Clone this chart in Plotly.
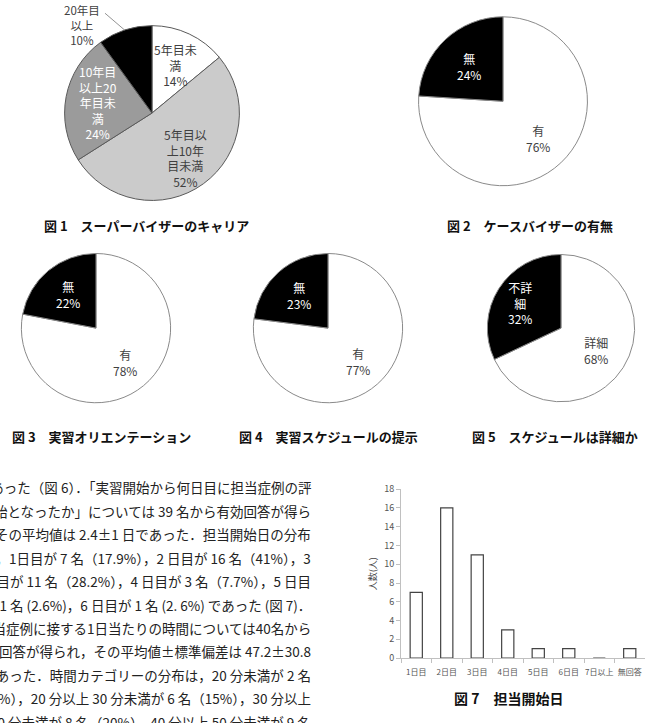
import math
import plotly.graph_objects as go

W, H = 652, 723

# ---------------- data ----------------
pie1_labels = ["5年目未<br>満<br>14%", "5年目以<br>上10年<br>目未満<br>52%", "10年目<br>以上20<br>年目未<br>満<br>24%", "20年目<br>以上<br>10%"]
pie1_values = [14, 52, 24, 10]
pie2_labels = ["有<br>76%", "無<br>24%"]
pie2_values = [76, 24]
pie3_labels = ["有<br>78%", "無<br>22%"]
pie3_values = [78, 22]
pie4_labels = ["有<br>77%", "無<br>23%"]
pie4_values = [77, 23]
pie5_labels = ["詳細<br>68%", "不詳<br>細<br>32%"]
pie5_values = [68, 32]

bar_categories = ["1日目", "2日目", "3日目", "4日目", "5日目", "6日目", "7日以上", "無回答"]
bar_values = [7, 16, 11, 3, 1, 1, 0, 1]

captions = ["図 1　スーパーバイザーのキャリア", "図 2　ケースバイザーの有無",
            "図 3　実習オリエンテーション", "図 4　実習スケジュールの提示",
            "図 5　スケジュールは詳細か", "図 7　担当開始日"]

body_lines = [
    "であった（図 6）．「実習開始から何日目に担当症例の評",
    "価開始となったか」については 39 名から有効回答が得ら",
    "れ，その平均値は 2.4±1 日であった．担当開始日の分布",
    "は，1日目が 7 名（17.9%），2 日目が 16 名（41%），3",
    "日目が 11 名（28.2%），4 日目が 3 名（7.7%），5 日目",
    "が 1 名 (2.6%)，6 日目が 1 名 (2. 6%) であった (図 7)．",
    "担当症例に接する1日当たりの時間については40名から",
    "有効回答が得られ，その平均値±標準偏差は 47.2±30.8",
    "分であった．時間カテゴリーの分布は，20 分未満が 2 名",
    "（5%），20 分以上 30 分未満が 6 名（15%），30 分以上",
    "40 分未満が 8 名（20%），40 分以上 50 分未満が 9 名",
]

# ---------------- helpers ----------------
def px(x):
    return x / W

def py(y):
    return 1 - y / H

FONT = "Noto Sans CJK JP"
fig = go.Figure()
annotations = []

# pie specs: (values, labels, colors, text colors, center x, center y, radius, label radial fractions, line color)
pies = [
    (pie1_values, pie1_labels, ["#ffffff", "#cbcbcb", "#9b9b9b", "#000000"],
     ["#404040", "#404040", "#ffffff", None], 152, 108, 89, [0.61, 0.64, 0.62, None], "#5a5a5a"),
    (pie2_values, pie2_labels, ["#ffffff", "#000000"], ["#404040", "#ffffff"], 503, 96, 86, [0.6, 0.57], "#8a8a8a"),
    (pie3_values, pie3_labels, ["#ffffff", "#000000"], ["#404040", "#ffffff"], 96, 327, 76, [0.6, 0.58], "#8a8a8a"),
    (pie4_values, pie4_labels, ["#ffffff", "#000000"], ["#404040", "#ffffff"], 328, 327, 76, [0.6, 0.58], "#8a8a8a"),
    (pie5_values, pie5_labels, ["#ffffff", "#000000"], ["#404040", "#ffffff"], 561, 327, 75, [0.56, 0.64], "#8a8a8a"),
]

for vals, labs, cols, tcols, cx, cy, r, fr, lc in pies:
    fig.add_trace(go.Pie(
        values=vals, labels=[l.replace("<br>", "") for l in labs], sort=False,
        direction="clockwise", rotation=0,
        marker=dict(colors=cols, line=dict(color=lc, width=1)),
        textinfo="none", hoverinfo="skip", showlegend=False,
        domain=dict(x=[px(cx - r), px(cx + r)], y=[py(cy + r), py(cy - r)]),
    ))
    total = sum(vals)
    start = 0.0
    for v, lab, tc, f in zip(vals, labs, tcols, fr):
        mid = (start + v / 2) / total * 2 * math.pi
        start += v
        if f is None:
            # outside label with leader line
            ex = cx + r * math.sin(mid)
            ey = cy - r * math.cos(mid)
            annotations.append(dict(x=px(ex), y=py(ey), xref="paper", yref="paper",
                                    showarrow=True, arrowhead=0, arrowwidth=0.8, arrowcolor="#777",
                                    ax=-21, ay=-18, text=""))
            annotations.append(dict(x=px(ex - 42), y=py(ey - 5), xref="paper", yref="paper",
                                    xanchor="center", yanchor="middle",
                                    showarrow=False, text=lab, align="center",
                                    font=dict(family=FONT, size=11.5, color="#404040")))
            continue
        lx = cx + f * r * math.sin(mid)
        ly = cy - f * r * math.cos(mid)
        annotations.append(dict(x=px(lx), y=py(ly), xref="paper", yref="paper",
                                xanchor="center", yanchor="middle",
                                showarrow=False, text=lab, align="center",
                                font=dict(family=FONT, size=12, color=tc)))

# ---------------- bar chart ----------------
fig.add_trace(go.Bar(
    x=bar_categories, y=bar_values, width=0.4,
    marker=dict(color="#ffffff", line=dict(color="#444444", width=1.2)),
    hoverinfo="skip", showlegend=False,
))

fig.update_layout(
    xaxis=dict(domain=[px(401), px(645)], anchor="y", showgrid=False, zeroline=False,
               showline=True, linecolor="#c0c0c0", linewidth=1, tickangle=0,
               ticks="outside", tickson="boundaries", ticklen=4, tickcolor="#c0c0c0",
               ticklabelstandoff=6,
               tickfont=dict(family=FONT, size=8, color="#555555"), fixedrange=True),
    yaxis=dict(domain=[py(663), py(491)], anchor="x", range=[0, 18], dtick=2,
               showgrid=False, zeroline=False, showline=True, linecolor="#c0c0c0", linewidth=1,
               ticks="outside", ticklen=4, tickcolor="#c0c0c0",
               tickfont=dict(family=FONT, size=9, color="#555555"),
               title=dict(text="人数(人)", font=dict(family=FONT, size=9, color="#444444"), standoff=6),
               fixedrange=True),
)

# ---------------- captions ----------------
cap_pos = [(146, 222), (530, 222), (101, 437), (328, 437), (555, 437), (508, 704)]
cap_size = [13, 13, 13, 13, 13, 14]
for t, (x, y), s in zip(captions, cap_pos, cap_size):
    annotations.append(dict(x=px(x), y=py(y), xref="paper", yref="paper", showarrow=False,
                            xanchor="center", yanchor="middle",
                            text=t, font=dict(family=FONT, size=s, color="#111111", weight="bold")))

# ---------------- body text ----------------
line_y0, line_dy = 489, 23.9
for i, line in enumerate(body_lines):
    annotations.append(dict(x=px(313), y=py(line_y0 + i * line_dy), xref="paper", yref="paper",
                            xanchor="right", yanchor="middle", showarrow=False, text=line,
                            font=dict(family=FONT, size=13.5, color="#222222")))

fig.update_layout(
    width=W, height=H, autosize=False,
    margin=dict(l=0, r=0, t=0, b=0),
    paper_bgcolor="#ffffff", plot_bgcolor="#ffffff",
    annotations=annotations,
)

fig.write_html("out.html")
